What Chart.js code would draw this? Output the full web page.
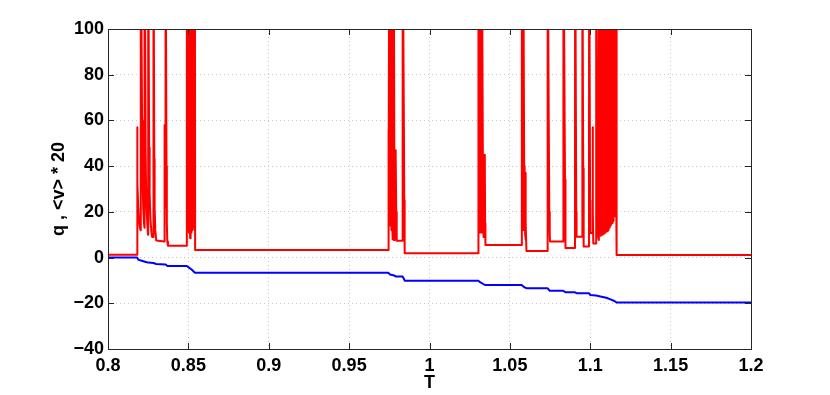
<!DOCTYPE html>
<html>
<head>
<meta charset="utf-8">
<script src="https://cdn.jsdelivr.net/npm/chart.js@4"></script>
<style>
  html, body { margin: 0; padding: 0; background: #ffffff; }
  #wrap { width: 830px; height: 395px; }
</style>
</head>
<body>
<div id="wrap"><canvas id="c" width="830" height="395"></canvas></div>
<script>
// ---- data ----
const xTickValues = [0.8, 0.85, 0.9, 0.95, 1, 1.05, 1.1, 1.15, 1.2];
const yTickValues = [-40, -20, 0, 20, 40, 60, 80, 100];

// red series: q
const redT = [
  0.8000, 0.8181, 0.8181, 0.8184, 0.8188, 0.8193, 0.8199, 0.8203,
  0.8204, 0.8212, 0.8215, 0.8219, 0.8224, 0.8227,
  0.8228, 0.8234, 0.8237, 0.8241, 0.8246, 0.8249,
  0.8250, 0.8256, 0.8259, 0.8264, 0.8270, 0.8275, 0.8282,
  0.8283, 0.8288, 0.8290, 0.8294, 0.8300, 0.8350,
  0.8351, 0.8353, 0.8356, 0.8358, 0.8364, 0.8366, 0.8369, 0.8373, 0.8488,
  0.8490, 0.8491, 0.8495, 0.8497, 0.8498, 0.8502, 0.8504, 0.8505, 0.8509, 0.8511,
  0.8512, 0.8516, 0.8518, 0.8519, 0.8523, 0.8525, 0.8526, 0.8530, 0.8532,
  0.8533, 0.8538, 0.8540, 0.8541, 0.8542, 0.9743,
  0.9744, 0.9747, 0.9750, 0.9754, 0.9756, 0.9757, 0.9761, 0.9763,
  0.9764, 0.9768, 0.9770, 0.9771, 0.9775, 0.9777, 0.9778, 0.9782, 0.9784,
  0.9786, 0.9788, 0.9790, 0.9791, 0.9793, 0.9795, 0.9797, 0.9832,
  0.9833, 0.9841, 0.9843, 0.9845, 0.9846, 1.0302,
  1.0304, 1.0305, 1.0309, 1.0311, 1.0312, 1.0316, 1.0318, 1.0319, 1.0323, 1.0325,
  1.0326, 1.0331, 1.0333, 1.0335, 1.0337, 1.0343, 1.0344, 1.0346, 1.0348, 1.0573,
  1.0574, 1.0575, 1.0580, 1.0582, 1.0583, 1.0589, 1.0592, 1.0595, 1.0597,
  1.0598, 1.0600, 1.0603, 1.0734,
  1.0735, 1.0742, 1.0745, 1.0748, 1.0750, 1.0832,
  1.0833, 1.0843, 1.0845, 1.0847, 1.0905,
  1.0906, 1.0913, 1.0915, 1.0950,
  1.0951, 1.0956, 1.0958, 1.0960, 1.0992,
  1.0993, 1.0999, 1.1001, 1.1014, 1.1015, 1.1017, 1.1019, 1.1036,
  1.1037, 1.1043, 1.1046, 1.1050, 1.1053,
  1.1054, 1.1059, 1.1062, 1.1066,
  1.1067, 1.1071, 1.1074, 1.1077,
  1.1078, 1.1082, 1.1085, 1.1087,
  1.1088, 1.1092, 1.1094, 1.1096,
  1.1097, 1.1101, 1.1103, 1.1105,
  1.1106, 1.1109, 1.1111, 1.1113,
  1.1114, 1.1117, 1.1119, 1.1121,
  1.1122, 1.1125, 1.1127, 1.1129,
  1.1130, 1.1133, 1.1135, 1.1136,
  1.1137, 1.1140, 1.1142, 1.1143,
  1.1144, 1.1147, 1.1149, 1.1150,
  1.1151, 1.1154, 1.1156, 1.1157,
  1.1158, 1.1161, 1.1163, 1.1164, 1.1165, 1.2000
];
const redQ = [
  1.2, 1.2, 57, 33, 22, 16, 13, 12,
  150, 60, 35, 22, 15, 13,
  150, 47, 30, 20, 13, 10,
  150, 48, 28, 17, 11, 9, 9,
  150, 43, 22, 12, 7.5, 7,
  58, 35, 22, 150, 40, 15, 7, 5.2, 5.2,
  12, 150, 20, 12, 150, 18, 11, 150, 17, 8.5,
  150, 16, 11, 150, 18, 12, 150, 20, 13,
  150, 15, 12, 150, 3.3, 3.3,
  56, 30, 150, 35, 14, 150, 30, 12,
  150, 25, 8, 150, 22, 7.7, 150, 20, 7.7,
  47, 20, 10, 45, 20, 10, 7.4, 7.4,
  150, 55, 25, 10, 1.9, 1.9,
  16, 150, 20, 11, 150, 20, 11, 150, 20, 11,
  150, 59, 25, 12, 9, 9, 45, 15, 5.5, 5.5,
  20, 150, 30, 12, 150, 40, 20, 10, 8,
  37, 15, 2.9, 2.9,
  150, 58, 20, 10, 7, 7,
  150, 34, 12, 4.2, 4.2,
  150, 20, 9.1, 9.1,
  150, 39, 15, 4.8, 4.8,
  150, 25, 10.8, 10.8, 57, 20, 6.2, 6.2,
  150, 53, 20, 9, 7.7,
  150, 50, 20, 9.5,
  150, 48, 20, 10,
  150, 45, 20, 10.5,
  150, 42, 20, 11,
  150, 40, 20, 11.5,
  150, 37, 20, 12,
  150, 33, 18, 13,
  150, 30, 18, 14,
  150, 28, 18, 15,
  150, 26, 19, 16,
  150, 25, 20, 18,
  150, 25, 21, 20,
  150, 28, 22, 150, 1.1, 1.1
];

// blue series: <v> * 20
const blueT = [
  0.8000, 0.8181, 0.8190, 0.8205, 0.8230, 0.8250, 0.8283, 0.8300, 0.8358, 0.8370,
  0.8490, 0.8500, 0.8520, 0.8541, 0.9743, 0.9755, 0.9780, 0.9790, 0.9833, 0.9846,
  1.0302, 1.0320, 1.0345, 1.0573, 1.0590, 1.0603, 1.0734, 1.0748, 1.0832, 1.0847,
  1.0905, 1.0915, 1.0992, 1.1001, 1.1036, 1.1070, 1.1100, 1.1130, 1.1150, 1.1165,
  1.2000
];
const blueV = [
  0, 0, -1.0, -1.3, -1.8, -2.2, -2.4, -2.8, -3.0, -3.7,
  -3.7, -4.2, -5.2, -6.6, -6.6, -7.4, -7.8, -8.3, -8.3, -10.1,
  -10.1, -11.0, -12.0, -12.0, -13.0, -13.4, -13.4, -14.5, -14.5, -15.2,
  -15.2, -15.6, -15.6, -16.4, -16.6, -17.1, -17.6, -18.4, -19.0, -19.7,
  -19.7
];

const redData = redT.map((t, i) => ({ x: t, y: redQ[i] }));
const blueData = blueT.map((t, i) => ({ x: t, y: blueV[i] }));

const FONT = "'Liberation Sans', Arial, Helvetica, sans-serif";

// frame + inward tick marks (MATLAB style)
const framePlugin = {
  id: 'frame',
  afterDatasetsDraw(chart) {
    const { ctx, chartArea: a, scales } = chart;
    ctx.save();
    ctx.strokeStyle = '#262626';
    ctx.lineWidth = 1;
    const L = 6;
    ctx.beginPath();
    scales.x.ticks.forEach(t => {
      const px = Math.round(scales.x.getPixelForValue(t.value)) + 0.5;
      ctx.moveTo(px, a.bottom); ctx.lineTo(px, a.bottom - L);
      ctx.moveTo(px, a.top); ctx.lineTo(px, a.top + L);
    });
    scales.y.ticks.forEach(t => {
      const py = Math.round(scales.y.getPixelForValue(t.value)) + 0.5;
      ctx.moveTo(a.left, py); ctx.lineTo(a.left + L, py);
      ctx.moveTo(a.right, py); ctx.lineTo(a.right - L, py);
    });
    ctx.stroke();
    ctx.strokeRect(Math.round(a.left) + 0.5, Math.round(a.top) + 0.5,
                   Math.round(a.right - a.left), Math.round(a.bottom - a.top));
    ctx.restore();
  }
};

new Chart(document.getElementById('c'), {
  type: 'line',
  data: {
    datasets: [
      { label: 'q', data: redData, borderColor: '#ff0000', borderWidth: 2,
        pointRadius: 0, tension: 0, fill: false, borderJoinStyle: 'round' },
      { label: '<v> * 20', data: blueData, borderColor: '#0000ff', borderWidth: 2,
        pointRadius: 0, tension: 0, fill: false, borderJoinStyle: 'round' }
    ]
  },
  options: {
    responsive: false,
    animation: false,
    events: [],
    layout: { padding: { left: 0, top: 29, right: 79, bottom: 0 } },
    plugins: { legend: { display: false }, tooltip: { enabled: false } },
    scales: {
      x: {
        type: 'linear', min: 0.8, max: 1.2,
        afterBuildTicks: s => { s.ticks = xTickValues.map(v => ({ value: v })); },
        afterFit: s => { s.height = 46; },
        grid: { color: '#c8c8c8', drawTicks: false, lineWidth: 1 },
        border: { display: false, dash: [1, 3] },
        ticks: { color: '#000', padding: 6, maxRotation: 0,
                 font: { family: FONT, size: 18, weight: 'bold' },
                 callback: v => String(Math.round(v * 100) / 100) },
        title: { display: true, text: 'T', color: '#000',
                 font: { family: FONT, size: 18, weight: 'bold' },
                 padding: { top: 0, bottom: 1 } }
      },
      y: {
        type: 'linear', min: -40, max: 100,
        afterBuildTicks: s => { s.ticks = yTickValues.map(v => ({ value: v })); },
        afterFit: s => { s.width = 108; },
        grid: { color: '#c8c8c8', drawTicks: false, lineWidth: 1 },
        border: { display: false, dash: [1, 3] },
        ticks: { color: '#000', padding: 4,
                 font: { family: FONT, size: 18, weight: 'bold' },
                 callback: v => (v < 0 ? '\u2212' + Math.abs(v) : String(v)) },
        title: { display: true, text: 'q , <v> * 20', color: '#000',
                 font: { family: FONT, size: 18, weight: 'bold' },
                 padding: { top: 48, bottom: 0 } }
      }
    }
  },
  plugins: [framePlugin]
});
</script>
</body>
</html>
